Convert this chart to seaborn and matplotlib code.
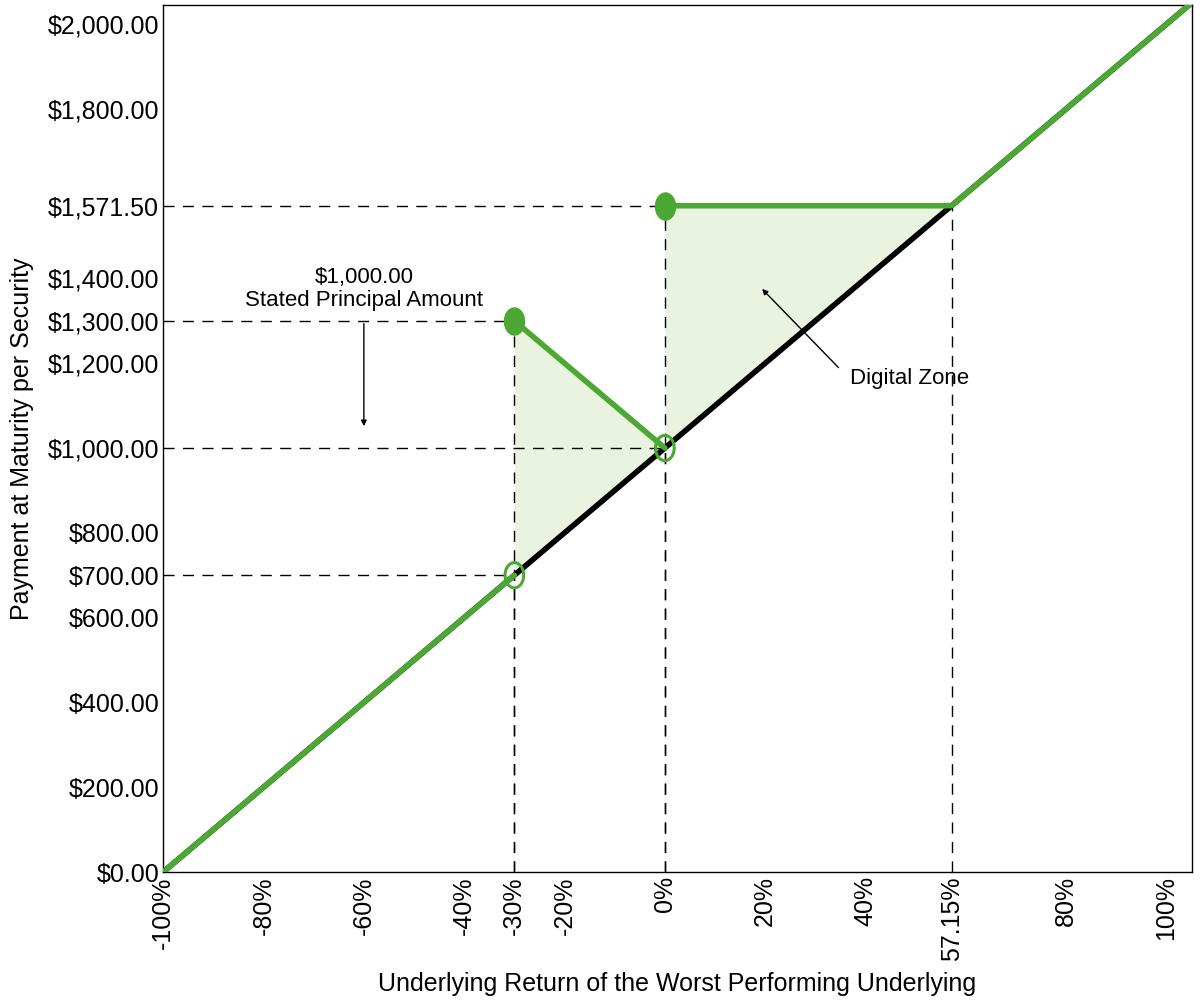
import numpy as np
import pandas as pd
import matplotlib
matplotlib.use("Agg")
import matplotlib.pyplot as plt
from matplotlib.path import Path
import seaborn as sns

sns.set_theme(style="white")
plt.rcParams['font.family'] = ['Liberation Sans', 'DejaVu Sans']
plt.rcParams['text.color'] = 'black'
plt.rcParams['axes.labelcolor'] = 'black'
plt.rcParams['xtick.color'] = 'black'
plt.rcParams['ytick.color'] = 'black'

# Data
ref_x = [-100, 105]
ref_y = [0, 2050]
payoff_x = [-100, -30, -30, 0, 0, 57.15, 105]
payoff_y = [0, 700, 1300, 1000, 1571.5, 1571.5, 2050]
x_ticks = [-100, -80, -60, -40, -30, -20, 0, 20, 40, 57.15, 80, 100]
x_tick_labels = ["-100%", "-80%", "-60%", "-40%", "-30%", "-20%", "0%", "20%", "40%", "57.15%", "80%", "100%"]
y_ticks = [0, 200, 400, 600, 700, 800, 1000, 1200, 1300, 1400, 1571.5, 1800, 2000]
y_tick_labels = ["$0.00", "$200.00", "$400.00", "$600.00", "$700.00", "$800.00", "$1,000.00",
                 "$1,200.00", "$1,300.00", "$1,400.00", "$1,571.50", "$1,800.00", "$2,000.00"]
filled_pts_x = [-30, 0]
filled_pts_y = [1300, 1571.5]
open_pts_x = [-30, 0]
open_pts_y = [700, 1000]
# dashed guides: (x, y) points
guide_x = [-30, 0, -30, 0, 57.15]
guide_y = [700, 1000, 1300, 1571.5, 1571.5]

green = "#4ba832"
fill_col = "#e9f3df"

# ellipse marker (taller than wide)
t = np.linspace(0, 2 * np.pi, 60)
ell_verts = np.column_stack([0.74 * np.cos(t), np.sin(t)])
ell = Path(ell_verts, closed=True)

fig = plt.figure(figsize=(12, 10), dpi=100)
ax = fig.add_axes([0.136, 0.128, 0.857, 0.867])

# fill zones
ax.fill_between([-30, 0], [700, 1000], [1300, 1000], color=fill_col, zorder=1, linewidth=0)
ax.fill_between([0, 57.15], [1000, 1571.5], [1571.5, 1571.5], color=fill_col, zorder=1, linewidth=0)

# dashed guides
for gx, gy in zip(guide_x, guide_y):
    if gx != 57.15:
        ax.plot([-100, gx], [gy, gy], color="black", lw=1, dashes=(8, 6), zorder=2)
    ax.plot([gx, gx], [0, gy], color="black", lw=1, dashes=(8, 6), zorder=2)

# reference (black) line
ref_df = pd.DataFrame({"x": ref_x, "y": ref_y})
sns.lineplot(data=ref_df, x="x", y="y", color="black", lw=4, ax=ax, zorder=3)

# payoff segments (green)
segs = [(0, 2), (2, 4), (4, 7)]
for a, b in segs:
    df = pd.DataFrame({"x": payoff_x[a:b], "y": payoff_y[a:b]})
    sns.lineplot(data=df, x="x", y="y", color=green, lw=4, ax=ax, zorder=4, sort=False)

ax.scatter(filled_pts_x, filled_pts_y, s=380, marker=ell, color=green, zorder=5, edgecolor=green)
ax.scatter(open_pts_x, open_pts_y, s=330, marker=ell, facecolor="none", edgecolor=green, linewidth=2.2, zorder=5)

# annotations
ax.text(-60, 1375, "$1,000.00\nStated Principal Amount", ha="center", va="center", fontsize=16, linespacing=1.15)
ax.annotate("", xy=(-60, 1045), xytext=(-60, 1300),
            arrowprops=dict(arrowstyle="-|>", color="black", lw=1, mutation_scale=8))
ax.text(37, 1165, "Digital Zone", ha="left", va="center", fontsize=16)
ax.annotate("", xy=(19, 1380), xytext=(35, 1185),
            arrowprops=dict(arrowstyle="-|>", color="black", lw=1, mutation_scale=8))

ax.set_xlim(-100, 105)
ax.set_ylim(0, 2045)
ax.set_xticks(x_ticks)
ax.set_xticklabels(x_tick_labels, rotation=90, fontsize=18)
ax.set_yticks(y_ticks)
ax.set_yticklabels(y_tick_labels, fontsize=18)
ax.tick_params(axis="both", length=0, pad=3)
ax.set_xlabel("Underlying Return of the Worst Performing Underlying", fontsize=18, labelpad=8)
ax.set_ylabel("Payment at Maturity per Security", fontsize=18, labelpad=10)
for s in ax.spines.values():
    s.set_color("black")
    s.set_linewidth(1)

fig.savefig("out.png", dpi=100)
